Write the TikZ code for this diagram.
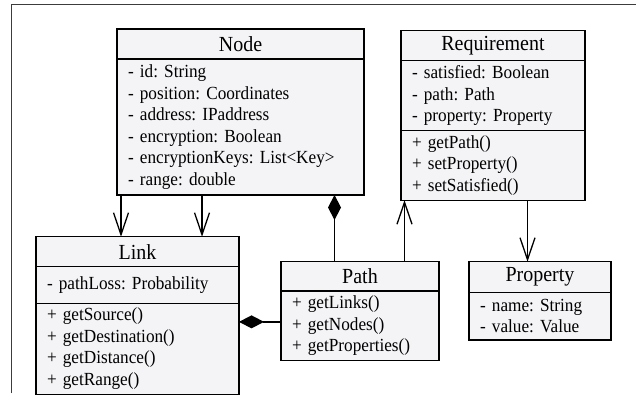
\documentclass[tikz,border=0pt]{standalone}
\usepackage{fontspec}
\setmainfont{Liberation Serif}[FakeStretch=0.93]
\usepackage{xcolor}
\usetikzlibrary{arrows.meta,positioning}
\definecolor{ClassFill}{RGB}{244,244,246}
\definecolor{FrameGray}{RGB}{60,60,60}

\newcommand{\titlesize}{\fontsize{21.5}{24}\selectfont}
\newcommand{\membersize}{\fontsize{18.5}{21.5}\selectfont}
\frenchspacing

\begin{document}
\begin{tikzpicture}[x=1pt, y=-1pt,
    classtitle/.style={draw, fill=ClassFill, line width=1.3pt, outer sep=0pt, inner sep=0pt, anchor=north west, minimum width=#1, font=\titlesize},
    members/.style={draw, fill=ClassFill, line width=1.3pt, outer sep=0pt, inner xsep=11pt, inner ysep=0pt, text width=#1, align=left, font=\membersize},
    assoc/.style={-{Straight Barb[length=22pt,width=15pt]}, line width=1.3pt},
    compose/.style={-{Diamond[length=25pt,width=13pt]}, line width=1.3pt}]
    \useasboundingbox (0,0) rectangle (636,405);

    % Frame
    \draw[FrameGray, line width=1.2pt] (11.5,393) -- (11.5,4.7) -- (640,4.7);

    % Node
    \node[classtitle=247pt, minimum height=30pt] (nodetitle) at (117,29) {Node};
    \node[members=225pt, minimum height=136pt, below=0pt of nodetitle] (nodeattr) {- id: String\\- position: Coordinates\\- address: IPaddress\\- encryption: Boolean\\- encryptionKeys: List<Key>\\- range: double};

    % Requirement
    \node[classtitle=184pt, minimum height=30pt] (reqtitle) at (401,30.7) {Requirement};
    \node[members=162pt, minimum height=70pt, below=0pt of reqtitle] (reqattr) {- satisfied: Boolean\\- path: Path\\- property: Property};
    \node[members=162pt, minimum height=69.5pt, below=0pt of reqattr] (reqmeth) {+ getPath()\\+ setProperty()\\+ setSatisfied()};

    % Link
    \node[classtitle=203pt, minimum height=30pt] (linktitle) at (36,236.7) {Link};
    \node[members=181pt, minimum height=36.6pt, below=0pt of linktitle] (linkattr) {- pathLoss: Probability};
    \node[members=181pt, minimum height=91pt, below=0pt of linkattr] (linkmeth) {+ getSource()\\+ getDestination()\\+ getDistance()\\+ getRange()};

    % Path
    \node[classtitle=158pt, minimum height=29.3pt] (pathtitle) at (281,261.7) {Path};
    \node[members=136pt, minimum height=69.7pt, below=0pt of pathtitle] (pathmeth) {+ getLinks()\\+ getNodes()\\+ getProperties()};

    % Property
    \node[classtitle=142pt, minimum height=30.6pt] (proptitle) at (469,261.7) {Property};
    \node[members=120pt, minimum height=47.7pt, below=0pt of proptitle] (propattr) {- name: String\\- value: Value};

    % Associations
    \draw[assoc] ([xshift=4pt]nodeattr.south west) -- ([xshift=4pt]nodeattr.south west |- linktitle.north);
    \draw[assoc] ([xshift=85pt]nodeattr.south west) -- ([xshift=85pt]nodeattr.south west |- linktitle.north);
    \draw[assoc] ([xshift=44.5pt]pathtitle.north) -- ([xshift=44.5pt]pathtitle.north |- reqmeth.south);
    \draw[assoc] ([xshift=-12.5pt]proptitle.north |- reqmeth.south) -- ([xshift=-12.5pt]proptitle.north);

    % Compositions
    \draw[compose] ([xshift=-25.5pt]pathtitle.north) -- ([xshift=-25.5pt]pathtitle.north |- nodeattr.south);
    \draw[compose] ([yshift=4pt]pathmeth.west) -- ([yshift=4pt]pathmeth.west -| linkmeth.east);
\end{tikzpicture}
\end{document}
